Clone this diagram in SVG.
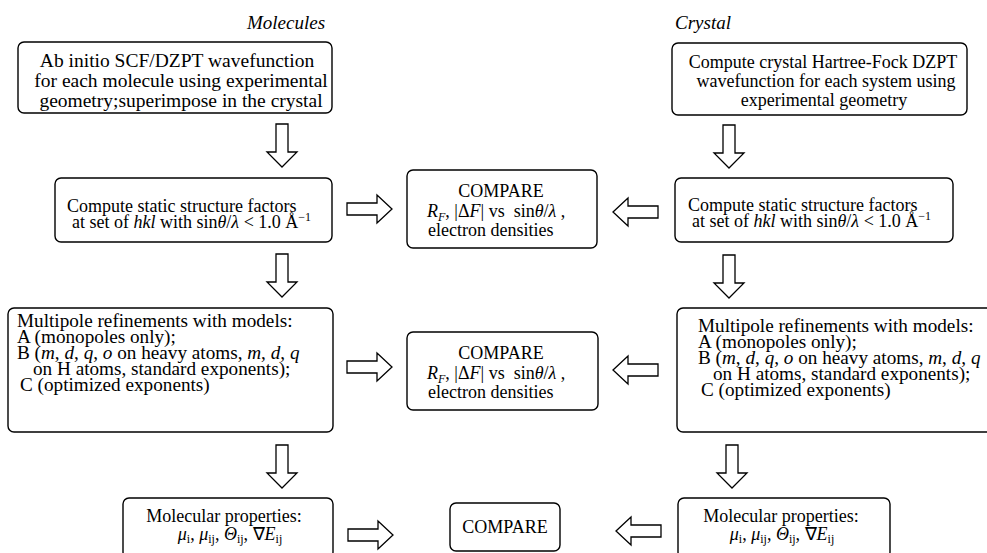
<svg xmlns="http://www.w3.org/2000/svg" width="987" height="553" viewBox="0 0 987 553">
<style>
text{font-family:"Liberation Serif","Times New Roman",serif;font-size:18px;fill:#000}
.c{text-anchor:middle}
.i{font-style:italic}
.hdr{font-style:italic;font-size:19px}
.big{font-size:19.5px}
.mp{font-size:19.2px}
.sub{font-size:12px}
.box{fill:#fff;stroke:#000;stroke-width:1.4}
.arr{fill:#fff;stroke:#000;stroke-width:1.3;stroke-linejoin:miter}
</style>
<defs>
<path id="down" d="M-6,0 V28 H-15 L0,43 L15,28 H6 V0 Z"/>
<path id="right" d="M0,-6 H30 V-14 L45,0 L30,14 V6 H0 Z"/>
<path id="left" d="M0,0 L15,-14 V-6 H45 V6 H15 V14 Z"/>
</defs>
<rect width="987" height="553" fill="#fff"/>

<text class="hdr" x="247" y="29">Molecules</text>
<text class="hdr" x="675" y="29">Crystal</text>

<g id="connectors">
<use href="#down" class="arr" x="282" y="124"/>
<use href="#down" class="arr" x="729" y="125"/>
<use href="#right" class="arr" x="347" y="209"/>
<use href="#left" class="arr" x="613" y="212"/>
<use href="#down" class="arr" x="282" y="254"/>
<use href="#down" class="arr" x="729" y="255"/>
<use href="#right" class="arr" x="347" y="367"/>
<use href="#left" class="arr" x="613" y="370"/>
<use href="#down" class="arr" x="282" y="445"/>
<use href="#down" class="arr" x="732" y="445"/>
<use href="#right" class="arr" x="348" y="535"/>
<use href="#left" class="arr" x="616" y="531"/>
</g>

<g id="mol-wavefunction">
<rect class="box" x="18" y="42" width="314" height="71" rx="6"/>
<text class="c big" x="177" y="67">Ab initio SCF/DZPT wavefunction</text>
<text class="c big" x="181" y="87">for each molecule using experimental</text>
<text class="c big" x="181" y="107">geometry;superimpose in the crystal</text>
</g>

<g id="cry-wavefunction">
<rect class="box" x="672" y="43" width="295" height="72" rx="6"/>
<text class="c" x="823" y="68">Compute crystal Hartree-Fock DZPT</text>
<text class="c" x="826" y="87">wavefunction for each system using</text>
<text class="c" x="824" y="106">experimental geometry</text>
</g>

<g id="mol-sf">
<rect class="box" x="55" y="178" width="277" height="64" rx="6"/>
<text x="67" y="212">Compute static structure factors</text>
<text x="72" y="228">at set of <tspan class="i">hkl</tspan> with sin<tspan class="i">θ</tspan>/<tspan class="i">λ</tspan> &lt; 1.0 Å<tspan class="sub" dy="-7">−1</tspan></text>
</g>

<g id="compare1">
<rect class="box" x="407" y="170" width="190" height="78" rx="6"/>
<text class="c" x="501" y="197">COMPARE</text>
<text x="427" y="217"><tspan class="i">R</tspan><tspan class="i sub" dy="4">F</tspan><tspan dy="-4">, |Δ</tspan><tspan class="i">F</tspan>| vs&#160; sin<tspan class="i">θ</tspan>/<tspan class="i">λ</tspan> ,</text>
<text x="428" y="236">electron densities</text>
</g>

<g id="cry-sf">
<rect class="box" x="675" y="178" width="278" height="64" rx="6"/>
<text x="688" y="211">Compute static structure factors</text>
<text x="692" y="227">at set of <tspan class="i">hkl</tspan> with sin<tspan class="i">θ</tspan>/<tspan class="i">λ</tspan> &lt; 1.0 Å<tspan class="sub" dy="-7">−1</tspan></text>
</g>

<g id="mol-multipole">
<rect class="box" x="8" y="308" width="325" height="124" rx="6"/>
<text class="mp" x="17" y="327">Multipole refinements with models:</text>
<text class="mp" x="17" y="343">A (monopoles only);</text>
<text class="mp" x="17" y="359">B (<tspan class="i">m</tspan>, <tspan class="i">d</tspan>, <tspan class="i">q</tspan>, <tspan class="i">o</tspan> on heavy atoms, <tspan class="i">m</tspan>, <tspan class="i">d</tspan>, <tspan class="i">q</tspan></text>
<text class="mp" x="33" y="375">on H atoms, standard exponents);</text>
<text class="mp" x="20" y="391">C (optimized exponents)</text>
</g>

<g id="compare2">
<rect class="box" x="407" y="332" width="191" height="78" rx="6"/>
<text class="c" x="501" y="359">COMPARE</text>
<text x="427" y="379"><tspan class="i">R</tspan><tspan class="i sub" dy="4">F</tspan><tspan dy="-4">, |Δ</tspan><tspan class="i">F</tspan>| vs&#160; sin<tspan class="i">θ</tspan>/<tspan class="i">λ</tspan> ,</text>
<text x="428" y="398">electron densities</text>
</g>

<g id="cry-multipole">
<rect class="box" x="677" y="308" width="315" height="124" rx="6"/>
<text class="mp" x="698" y="332">Multipole refinements with models:</text>
<text class="mp" x="698" y="348">A (monopoles only);</text>
<text class="mp" x="698" y="364">B (<tspan class="i">m</tspan>, <tspan class="i">d</tspan>, <tspan class="i">q</tspan>, <tspan class="i">o</tspan> on heavy atoms, <tspan class="i">m</tspan>, <tspan class="i">d</tspan>, <tspan class="i">q</tspan></text>
<text class="mp" x="713" y="380">on H atoms, standard exponents);</text>
<text class="mp" x="701" y="396">C (optimized exponents)</text>
</g>

<g id="mol-properties">
<rect class="box" x="123" y="498" width="210" height="60" rx="6"/>
<text class="c" x="224" y="522">Molecular properties:</text>
<text class="c" x="230" y="540"><tspan class="i">μ</tspan><tspan class="sub" dy="3">i</tspan><tspan dy="-3">, </tspan><tspan class="i">μ</tspan><tspan class="sub" dy="3">ij</tspan><tspan dy="-3">, </tspan><tspan class="i">Θ</tspan><tspan class="sub" dy="3">ij</tspan><tspan dy="-3">, ∇</tspan><tspan class="i">E</tspan><tspan class="sub" dy="3">ij</tspan></text>
</g>

<g id="compare3">
<rect class="box" x="450" y="503" width="110" height="48" rx="6"/>
<text class="c" x="505" y="533">COMPARE</text>
</g>

<g id="cry-properties">
<rect class="box" x="678" y="498" width="212" height="60" rx="6"/>
<text class="c" x="781" y="522">Molecular properties:</text>
<text class="c" x="782" y="540"><tspan class="i">μ</tspan><tspan class="sub" dy="3">i</tspan><tspan dy="-3">, </tspan><tspan class="i">μ</tspan><tspan class="sub" dy="3">ij</tspan><tspan dy="-3">, </tspan><tspan class="i">Θ</tspan><tspan class="sub" dy="3">ij</tspan><tspan dy="-3">, ∇</tspan><tspan class="i">E</tspan><tspan class="sub" dy="3">ij</tspan></text>
</g>
</svg>
